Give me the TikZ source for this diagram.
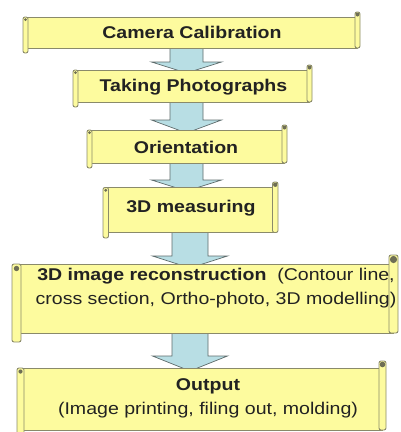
\documentclass[tikz,border=0pt]{standalone}
\usepackage{fontspec}
\setmainfont{Liberation Sans}[FakeStretch=1.15]
\definecolor{scfill}{HTML}{FDFB9E}
\definecolor{scline}{HTML}{8A8A6A}
\definecolor{arfill}{HTML}{B8DEE4}
\definecolor{arline}{HTML}{5E6B6B}
\definecolor{txtcol}{HTML}{222222}
\tikzset{
  scroll/.style={fill=scfill, draw=scline, line width=0.9pt},
  curl/.style={fill=scline!80!black},
  arr/.style={fill=arfill, draw=arline, line width=0.7pt, line join=miter},
  txt/.style={inner sep=0pt, align=center, text=txtcol, font=\fontsize{17}{24}\selectfont}
}
\newcommand\scrl[5]{%
  \draw[scroll] ({#1+#5/2},{#3+#5}) rectangle ({#2-#5/2},{#4-#5});
  \draw[scroll, rounded corners=2pt] (#1,{#3+#5}) rectangle ({#1+#5},#4);
  \draw[scroll, rounded corners=2pt] ({#2-#5},#3) rectangle (#2,{#4-#5});
  \fill[curl] ({#2-#5/2},{#3+#5/2}) circle[radius={#5*0.4pt}];
  \fill[curl] ({#1+#5/2},{#3+#5+#5/2}) circle[radius={#5*0.3pt}];
}
\newcommand\barrow[6]{%
  \draw[arr] ({#1-#5},#2) -- ({#1-#5},#3) -- ({#1-#6},#3) -- (#1,#4) -- ({#1+#6},#3) -- ({#1+#5},#3) -- ({#1+#5},#2) -- cycle;
}
\begin{document}
\begin{tikzpicture}[x=1pt,y=-1pt]
\useasboundingbox (0,0) rectangle (401,432);
% block arrows (behind the scrolls)
\barrow{186.5}{40}{62}{73}{16.5}{35}
\barrow{186.5}{95}{120}{133}{16.5}{35}
\barrow{186.5}{155}{180}{191}{16.5}{35}
\barrow{190}{225}{256}{268}{18}{37.5}
\barrow{190}{325}{356}{371}{18}{37.5}
% scrolls
\scrl{23}{360}{12}{53}{5}
\scrl{73}{312}{65}{107}{5}
\scrl{87}{287}{125}{168}{5}
\scrl{103}{278}{182}{238}{5.5}
\scrl{12}{398}{255}{342}{9}
\scrl{17}{386}{361}{437}{7}
% texts
\node[txt] (t1) at (192,32) {\textbf{Camera Calibration}};
\node[txt] (t2) at (193.5,87) {\textbf{Taking Photographs}};
\node[txt] (t3) at (186,147) {\textbf{Orientation}};
\node[txt] (t4) at (191,208) {\textbf{3D measuring}};
\node[txt] (t5) at (216,288) {\textbf{3D image reconstruction}\ \ (Contour line,\\cross section, Ortho-photo, 3D modelling)};
\node[txt] (t6) at (208,398) {\textbf{Output}\\(Image printing, filing out, molding)};
\end{tikzpicture}
\end{document}
